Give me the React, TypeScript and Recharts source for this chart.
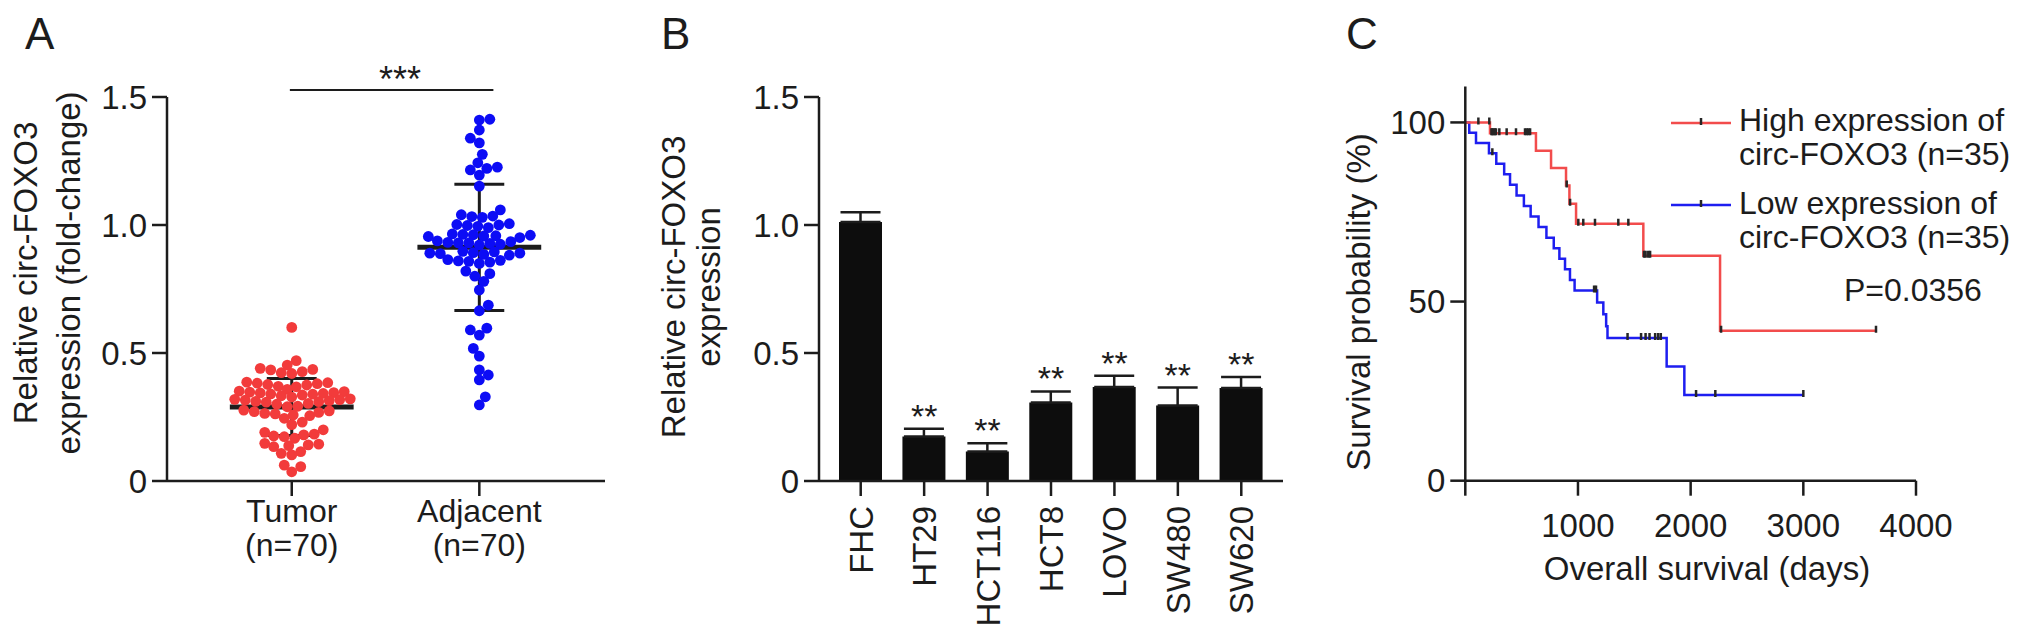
import React from 'react';
import {
  Bar,
  ComposedChart,
  ErrorBar,
  Line,
  ReferenceLine,
  Scatter,
  ScatterChart,
  XAxis,
  YAxis,
} from 'recharts';

const FONT = '"Liberation Sans", Arial, Helvetica, sans-serif';
const INK = '#1c1c1c';
const RED_DOT = '#f23b3b';
const BLUE_DOT = '#0c0cf5';
const RED_LINE = '#f24c4c';
const BLUE_LINE = '#1e1ef0';

// panel A - tissue expression (fold-change)
const groups = ['Tumor', 'Adjacent'];
const groupSizes = ['(n=70)', '(n=70)'];
const tumorValues = [
  0.6,
  0.47, 0.453, 0.436, 0.44, 0.427, 0.42, 0.423, 0.434,
  0.382, 0.375, 0.368, 0.384, 0.377, 0.38, 0.386, 0.37, 0.358,
  0.342, 0.349, 0.336, 0.344, 0.351, 0.34, 0.345, 0.347, 0.333, 0.339,
  0.316, 0.31, 0.303, 0.318, 0.308, 0.319, 0.314, 0.321, 0.3, 0.29,
  0.258, 0.271, 0.277, 0.245, 0.264, 0.255, 0.268, 0.274,
  0.18, 0.173, 0.183, 0.176, 0.167,
  0.141, 0.147, 0.138, 0.134, 0.144,
  0.108, 0.115, 0.102,
  0.062, 0.056, 0.036,
  0.22, 0.23, 0.2, 0.19, 0.311, 0.328, 0.292, 0.262,
];
const adjacentValues = [
  1.413, 1.41, 1.371, 1.339, 1.321, 1.276, 1.243, 1.215, 1.221, 1.226, 1.195, 1.152, 1.059,
  1.035, 1.03, 1.04, 1.033,
  1.0, 0.995, 1.005, 0.998, 1.002, 0.99,
  0.96, 0.965, 0.955, 0.962, 0.958, 0.951, 0.963, 0.957,
  0.93, 0.935, 0.925, 0.932, 0.928, 0.938, 0.922, 0.93,
  0.89, 0.895, 0.885, 0.892, 0.888, 0.897, 0.882, 0.89,
  0.86, 0.865, 0.855, 0.862, 0.858, 0.85,
  0.82, 0.8, 0.81, 0.78,
  0.746, 0.687, 0.665,
  0.57, 0.59, 0.597,
  0.518, 0.488,
  0.434, 0.414, 0.395,
  0.329, 0.297,
];

// panel B - cell lines
const cellLines = ['FHC', 'HT29', 'HCT116', 'HCT8', 'LOVO', 'SW480', 'SW620'];
const cellMeans = [1.012, 0.174, 0.115, 0.307, 0.367, 0.295, 0.363];
const cellSDs = [0.038, 0.03, 0.032, 0.043, 0.044, 0.07, 0.043];
const cellStars = ['', '**', '**', '**', '**', '**', '**'];

// panel C - survival times (days)
const highDeaths = [219, 627, 761, 894, 924, 983, 1580, 2261];
const highCensored = [
  116, 213, 232, 240, 250, 262, 272, 302, 367, 450, 530, 545, 560, 575,
  900, 930, 1003, 1047, 1151, 1358, 1447, 1586, 1600, 1624, 1640, 2270, 3645,
];
const lowDeaths = [
  35, 95, 210, 275, 345, 397, 455, 520, 580, 650, 720, 785, 835, 885, 929, 970,
  1170, 1225, 1250, 1262, 1787, 1944,
];
const lowCensored = [240, 1143, 1160, 1440, 1560, 1600, 1635, 1685, 1712, 1735, 2048, 2219, 3000];

// simple beeswarm so the dots spread sideways like the prism plot
function swarm(values: number[], center: number) {
  const pxX = 187.6;
  const pxY = 256;
  const d = 9.5;
  const order = values.map((_, i) => i).sort((a, b) => values[a] - values[b]);
  const placed: { px: number; py: number }[] = [];
  const out: { x: number; y: number }[] = new Array(values.length);
  order.forEach((i, n) => {
    const py = values[i] * pxY;
    const cands = [0];
    for (let k = 1; k <= 40; k++) {
      const sgn = n % 2 ? 1 : -1;
      cands.push(sgn * k * 1.5, -sgn * k * 1.5);
    }
    let chosen = cands[0];
    let bestGap = -1;
    for (const c of cands) {
      let gap = Infinity;
      for (const p of placed) {
        gap = Math.min(gap, Math.hypot(p.px - c, p.py - py));
      }
      if (gap >= d) {
        chosen = c;
        bestGap = gap;
        break;
      }
      if (gap > bestGap) {
        bestGap = gap;
        chosen = c;
      }
    }
    placed.push({ px: chosen, py });
    out[i] = { x: center + chosen / pxX, y: values[i] };
  });
  return out;
}

function stats(values: number[]) {
  const mean = values.reduce((a, b) => a + b, 0) / values.length;
  const sd = Math.sqrt(values.reduce((a, b) => a + (b - mean) ** 2, 0) / (values.length - 1));
  return { mean, sd };
}

function kaplanMeier(deaths: number[], censored: number[]) {
  const events = [
    ...deaths.map((t) => ({ t, d: 1 })),
    ...censored.map((t) => ({ t, d: 0 })),
  ].sort((a, b) => a.t - b.t || b.d - a.d);
  let atRisk = events.length;
  let s = 100;
  const curve = [{ t: 0, s: 100 }];
  const marks: { t: number; s: number }[] = [];
  for (const e of events) {
    if (e.d) {
      s = (s * (atRisk - 1)) / atRisk;
      curve.push({ t: e.t, s });
    } else {
      marks.push({ t: e.t, s });
    }
    atRisk -= 1;
  }
  const last = events[events.length - 1].t;
  if (curve[curve.length - 1].t < last) curve.push({ t: last, s });
  return { curve, marks };
}

const tumorPoints = swarm(tumorValues, 1);
const adjacentPoints = swarm(adjacentValues, 2);
const groupStats = [stats(tumorValues), stats(adjacentValues)];

const cellData = cellLines.map((name, i) => ({
  name,
  mean: cellMeans[i],
  err: [0, cellSDs[i]],
  top: cellMeans[i] + cellSDs[i],
}));

const high = kaplanMeier(highDeaths, highCensored);
const low = kaplanMeier(lowDeaths, lowCensored);

const axisStyle = { stroke: INK, strokeWidth: 2.5 };
const tickStyle = { fill: INK, fontSize: 33, fontFamily: FONT };
const fmt1 = (v: number) => (v === 0 ? '0' : v.toFixed(1));

const dot = (color: string) => (p: any) => <circle cx={p.cx} cy={p.cy} r={5.4} fill={color} />;

const GroupTick = ({ x, payload }: any) => {
  const i = Math.round(payload.value) - 1;
  return (
    <g fontFamily={FONT} fontSize={32} fill={INK}>
      <text x={x} y={522} textAnchor="middle">{groups[i]}</text>
      <text x={x} y={556} textAnchor="middle">{groupSizes[i]}</text>
    </g>
  );
};

const CellTick = ({ x, payload }: any) => (
  <text
    x={x + 12}
    y={506}
    transform={`rotate(-90, ${x + 12}, 506)`}
    textAnchor="end"
    fontFamily={FONT}
    fontSize={33}
    fill={INK}
  >
    {payload.value}
  </text>
);

const StarLabel = ({ x, y, index }: any) =>
  cellStars[index] ? (
    <text x={x} y={y - 1} textAnchor="middle" fontFamily={FONT} fontSize={34} fill={INK}>
      {cellStars[index]}
    </text>
  ) : null;

const TwoLineTitle = ({ x1, x2, cy, lines }: any) => (
  <g fontFamily={FONT} fontSize={33} fill={INK}>
    <text x={x1} y={cy} transform={`rotate(-90, ${x1}, ${cy})`} textAnchor="middle">{lines[0]}</text>
    <text x={x2} y={cy} transform={`rotate(-90, ${x2}, ${cy})`} textAnchor="middle">{lines[1]}</text>
  </g>
);

const SigStars = () => (
  <text x={400} y={92} textAnchor="middle" fontFamily={FONT} fontSize={36} fill={INK}>***</text>
);

const CensorTick = ({ cx, cy }: any) => (
  <line x1={cx} x2={cx} y1={cy - 5} y2={cy + 2} stroke="#262626" strokeWidth={2.5} />
);

function PanelA() {
  return (
    <ScatterChart width={680} height={637} margin={{ top: 97, right: 75, bottom: 0, left: 0 }}>
      <XAxis
        type="number"
        dataKey="x"
        domain={[0.335, 2.67]}
        ticks={[1, 2]}
        allowDataOverflow
        height={156}
        tickSize={15}
        axisLine={axisStyle}
        tickLine={axisStyle}
        tick={<GroupTick />}
        interval={0}
      />
      <YAxis
        type="number"
        dataKey="y"
        domain={[0, 1.5]}
        ticks={[0, 0.5, 1, 1.5]}
        width={167}
        tickSize={15}
        tickMargin={5}
        axisLine={axisStyle}
        tickLine={axisStyle}
        tick={tickStyle}
        tickFormatter={fmt1}
        label={
          <TwoLineTitle x1={37} x2={80} cy={273} lines={['Relative circ-FOXO3', 'expression (fold-change)']} />
        }
      />
      <Scatter data={tumorPoints} shape={dot(RED_DOT)} isAnimationActive={false} />
      <Scatter data={adjacentPoints} shape={dot(BLUE_DOT)} isAnimationActive={false} />
      {groupStats.map((g, i) => {
        const c = i + 1;
        return [
          <ReferenceLine
            key={`m${i}`}
            segment={[{ x: c - 0.33, y: g.mean }, { x: c + 0.33, y: g.mean }]}
            stroke={INK}
            strokeWidth={5}
          />,
          <ReferenceLine
            key={`v${i}`}
            segment={[{ x: c, y: g.mean - g.sd }, { x: c, y: g.mean + g.sd }]}
            stroke={INK}
            strokeWidth={3}
          />,
          <ReferenceLine
            key={`u${i}`}
            segment={[{ x: c - 0.133, y: g.mean + g.sd }, { x: c + 0.133, y: g.mean + g.sd }]}
            stroke={INK}
            strokeWidth={3}
          />,
          <ReferenceLine
            key={`l${i}`}
            segment={[{ x: c - 0.133, y: g.mean - g.sd }, { x: c + 0.133, y: g.mean - g.sd }]}
            stroke={INK}
            strokeWidth={3}
          />,
        ];
      })}
      <ReferenceLine
        segment={[{ x: 0.99, y: 1.527 }, { x: 2.075, y: 1.527 }]}
        stroke={INK}
        strokeWidth={2}
        ifOverflow="visible"
        label={<SigStars />}
      />
    </ScatterChart>
  );
}

function PanelB() {
  return (
    <ComposedChart width={690} height={637} data={cellData} margin={{ top: 97, right: 47, bottom: 0, left: 0 }}>
      <XAxis
        dataKey="name"
        type="category"
        height={156}
        padding={{ left: 10, right: 10 }}
        tickSize={15}
        axisLine={axisStyle}
        tickLine={axisStyle}
        tick={<CellTick />}
        interval={0}
      />
      <YAxis
        type="number"
        domain={[0, 1.5]}
        ticks={[0, 0.5, 1, 1.5]}
        width={179}
        tickSize={15}
        tickMargin={5}
        axisLine={axisStyle}
        tickLine={axisStyle}
        tick={tickStyle}
        tickFormatter={fmt1}
        label={<TwoLineTitle x1={45} x2={80} cy={287} lines={['Relative circ-FOXO3', 'expression']} />}
      />
      <Bar dataKey="mean" fill="#0d0d0d" barSize={43} isAnimationActive={false}>
        <ErrorBar dataKey="err" width={20} stroke={INK} strokeWidth={2.5} direction="y" />
      </Bar>
      <Line
        dataKey="top"
        stroke="none"
        dot={false}
        activeDot={false}
        label={<StarLabel />}
        isAnimationActive={false}
      />
    </ComposedChart>
  );
}

const TitleC = () => (
  <text x={387} y={580} textAnchor="middle" fontFamily={FONT} fontSize={33} fill={INK}>
    Overall survival (days)
  </text>
);

const TitleCY = () => (
  <text x={50} y={302} transform="rotate(-90, 50, 302)" textAnchor="middle" fontFamily={FONT} fontSize={33} fill={INK}>
    Survival probability (%)
  </text>
);

function PanelC() {
  return (
    <ComposedChart width={712} height={637} margin={{ top: 86.6, right: 116, bottom: 0, left: 0 }}>
      <XAxis
        type="number"
        dataKey="t"
        domain={[0, 4000]}
        ticks={[0, 1000, 2000, 3000, 4000]}
        allowDataOverflow
        height={156.3}
        tickSize={15}
        tickMargin={18}
        axisLine={axisStyle}
        tickLine={axisStyle}
        tick={tickStyle}
        tickFormatter={(v: number) => (v === 0 ? '' : String(v))}
        label={<TitleC />}
      />
      <YAxis
        type="number"
        dataKey="s"
        domain={[0, 110]}
        ticks={[0, 50, 100]}
        allowDataOverflow
        width={145.3}
        tickSize={15}
        tickMargin={5}
        axisLine={axisStyle}
        tickLine={axisStyle}
        tick={tickStyle}
        label={<TitleCY />}
      />
      <Line data={low.curve} type="stepAfter" dataKey="s" stroke={BLUE_LINE} strokeWidth={2.5} dot={false} activeDot={false} isAnimationActive={false} />
      <Line data={high.curve} type="stepAfter" dataKey="s" stroke={RED_LINE} strokeWidth={2.5} dot={false} activeDot={false} isAnimationActive={false} />
      <Scatter data={low.marks} dataKey="s" shape={<CensorTick />} isAnimationActive={false} />
      <Scatter data={high.marks} dataKey="s" shape={<CensorTick />} isAnimationActive={false} />
    </ComposedChart>
  );
}

function Overlay() {
  const txt = { fontFamily: FONT, fill: INK };
  return (
    <svg width={2032} height={637} style={{ position: 'absolute', left: 0, top: 0, pointerEvents: 'none' }}>
      <g {...txt} fontSize={44}>
        <text x={25} y={49}>A</text>
        <text x={661} y={49}>B</text>
        <text x={1346} y={49}>C</text>
      </g>
      <g {...txt} fontSize={32}>
        <line x1={1671} x2={1731} y1={123} y2={123} stroke={RED_LINE} strokeWidth={2.5} />
        <line x1={1701} x2={1701} y1={118} y2={125} stroke="#262626" strokeWidth={2.5} />
        <text x={1739} y={131}>High expression of</text>
        <text x={1739} y={165}>circ-FOXO3 (n=35)</text>
        <line x1={1671} x2={1731} y1={205} y2={205} stroke={BLUE_LINE} strokeWidth={2.5} />
        <line x1={1701} x2={1701} y1={200} y2={207} stroke="#262626" strokeWidth={2.5} />
        <text x={1739} y={214}>Low expression of</text>
        <text x={1739} y={248}>circ-FOXO3 (n=35)</text>
        <text x={1844} y={301}>P=0.0356</text>
      </g>
    </svg>
  );
}

export default function App() {
  return (
    <div style={{ position: 'absolute', left: 0, top: 0, width: 2032, height: 637, background: '#fff', overflow: 'hidden' }}>
      <div style={{ position: 'absolute', left: 0, top: 0 }}>
        <PanelA />
      </div>
      <div style={{ position: 'absolute', left: 640, top: 0 }}>
        <PanelB />
      </div>
      <div style={{ position: 'absolute', left: 1320, top: 0 }}>
        <PanelC />
      </div>
      <Overlay />
    </div>
  );
}
